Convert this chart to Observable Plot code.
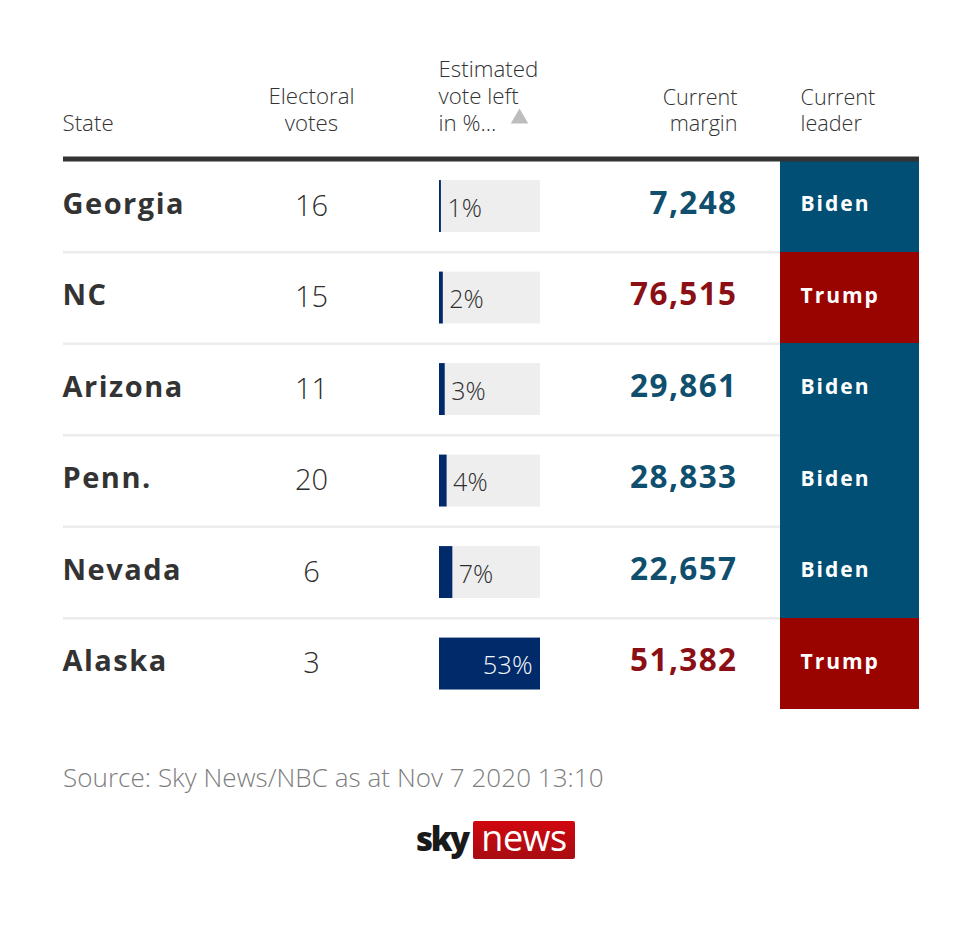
<!DOCTYPE html>
<html><head><meta charset="utf-8">
<script src="https://cdn.jsdelivr.net/npm/d3@7"></script>
<script src="https://cdn.jsdelivr.net/npm/@observablehq/plot@0.6"></script>
<style>
html,body{margin:0;padding:0;background:#fff;width:980px;height:942px;overflow:hidden}
svg{display:block}
.sp-state text{letter-spacing:1.5px}
.sp-margin text{letter-spacing:1.4px}
.sp-leader text{letter-spacing:2px}
#source{position:absolute;left:63px;top:759px;font:300 26px "Open Sans",sans-serif;color:#7d7d7d;letter-spacing:.05px;white-space:nowrap}
#sky{position:absolute;left:416px;top:816px;font:800 33px "Open Sans",sans-serif;color:#1a1a1a;letter-spacing:-2.4px}
#news{position:absolute;left:473px;top:821px;width:102px;height:38px;border-radius:2px;background:linear-gradient(#d0070f,#a80c12);color:#fff;font:400 36px/34px "Open Sans",sans-serif;text-align:center;letter-spacing:-.5px}
</style></head><body>
<div id="chart"></div>
<div id="source">Source: Sky News/NBC as at Nov 7 2020 13:10</div>
<div id="sky">sky</div><div id="news">news</div>
<script>
const states = ["Georgia","NC","Arizona","Penn.","Nevada","Alaska"];
const electoralVotes = [16,15,11,20,6,3];
const voteLeft = [1,2,3,4,7,53];
const margins = [7248,76515,29861,28833,22657,51382];
const leaders = ["Biden","Trump","Biden","Biden","Biden","Trump"];
const headers = ["State","Electoral\nvotes","Estimated\nvote left\nin %...","Current\nmargin","Current\nleader"];
const leaderFill = {Biden:"#024f75",Trump:"#990400"};
const marginFill = {Biden:"#0f4f6d",Trump:"#8a1015"};

const rows = states.map((state,i)=>({state,ev:electoralVotes[i],left:voteLeft[i],margin:margins[i],leader:leaders[i]}));
const sans = '"Open Sans",sans-serif';
const head = (t,o)=>Plot.text([t],{text:d=>d,frameAnchor:"top-left",lineAnchor:"bottom",lineHeight:1.2,fontFamily:sans,fontWeight:300,fontSize:22.3,fill:"#333333",dy:-30,...o});

const chart = Plot.plot({
  width:980,height:720,marginLeft:63,marginRight:61,marginTop:160,marginBottom:10,
  style:{background:"#fff"},
  x:{axis:null,domain:[0,53],range:[439,540]},
  y:{axis:null,domain:states,range:[160.3,709.3],padding:0,round:false},
  marks:[
    Plot.ruleY(states.slice(1),{stroke:"#ececec",strokeWidth:2.5,dy:-45.8}),
    Plot.barX(rows,{x1:()=>0,x2:()=>0,y:"state",fill:d=>leaderFill[d.leader],dx:341,insetRight:-139,shapeRendering:"crispEdges"}),
    Plot.ruleY(["Georgia"],{stroke:"#333333",strokeWidth:5,dy:-47.6}),
    head(headers[0],{dx:-1,textAnchor:"start"}),
    head(headers[1],{dx:248,textAnchor:"middle"}),
    head(headers[2],{dx:375,textAnchor:"start"}),
    head(headers[3],{dx:674,textAnchor:"end",fontSize:21.6}),
    head(headers[4],{dx:737,textAnchor:"start",fontSize:21.6}),
    Plot.dot(["sort"],{frameAnchor:"top-left",dx:456,dy:-42,symbol:"triangle",r:6.5,fill:"#bdbdbd"}),
    Plot.text(rows,{y:"state",text:"state",frameAnchor:"left",textAnchor:"start",dx:-1,dy:-2,fontFamily:sans,fontWeight:700,fontSize:29,fill:"#333333",className:"sp-state"}),
    Plot.text(rows,{y:"state",text:d=>String(d.ev),frameAnchor:"left",dx:248,textAnchor:"middle",fontFamily:sans,fontWeight:300,fontSize:29,fill:"#2e2e2e"}),
    Plot.barX(rows,{x1:()=>0,x2:()=>53,y:"state",fill:"#eeeeee",insetTop:19.8,insetBottom:19.8}),
    Plot.barX(rows,{x:"left",y:"state",fill:"#002a69",insetTop:19.8,insetBottom:19.8}),
    Plot.text(rows.filter(d=>d.left<53),{x:"left",y:"state",text:d=>d.left+"%",textAnchor:"start",dx:6,dy:2,fontFamily:sans,fontWeight:300,fontSize:25,fill:"#2e2e2e"}),
    Plot.text(rows.filter(d=>d.left>=53),{x:"left",y:"state",text:d=>d.left+"%",textAnchor:"end",dx:-8,dy:2,fontFamily:sans,fontWeight:300,fontSize:25.5,fill:"#f4f7fa"}),
    Plot.text(rows,{y:"state",text:d=>d3.format(",")(d.margin),frameAnchor:"left",dx:674,textAnchor:"end",dy:-3,fontFamily:sans,fontWeight:700,fontSize:31.5,fill:d=>marginFill[d.leader],className:"sp-margin"}),
    Plot.text(rows,{y:"state",text:"leader",frameAnchor:"left",dx:737,textAnchor:"start",dy:-2,fontFamily:sans,fontWeight:700,fontSize:21,fill:"#ffffff",className:"sp-leader"})
  ]
});
document.getElementById("chart").append(chart);
</script></body></html>
